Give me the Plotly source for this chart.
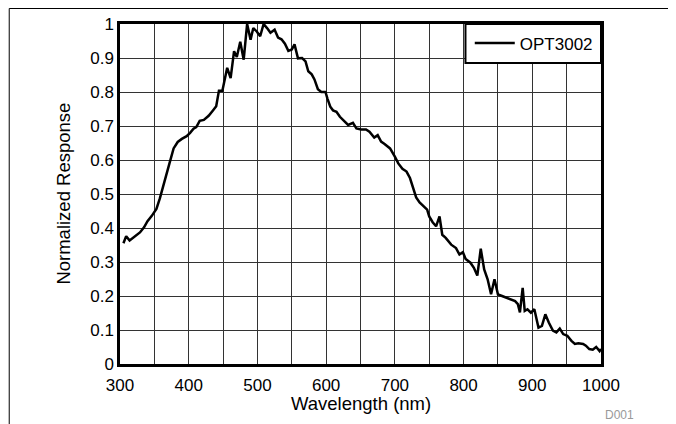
import plotly.graph_objects as go

wavelength = [305, 309, 314, 321, 329, 335, 340, 346, 353, 358, 365, 372, 378, 384, 390, 397, 402, 407, 411, 416,
              422, 429, 435, 440, 444, 449, 456, 461, 466, 470, 475, 480, 485, 490, 494, 499, 504, 509, 514, 519,
              525, 530, 535, 540, 545, 550, 554, 559, 565, 570, 574, 579, 583, 588, 593, 599, 602, 606, 610, 615,
              620, 627, 632, 639, 644, 651, 658, 663, 670, 675, 680, 685, 693, 700, 705, 711, 717, 722, 727, 731,
              736, 742, 747, 750, 755, 760, 765, 769, 774, 782, 789, 794, 799, 803, 810, 815, 820, 825, 830, 835,
              840, 845, 850, 856, 862, 868, 875, 879, 882, 886, 889, 893, 898, 903, 909, 914, 919, 924, 930, 935,
              940, 945, 951, 957, 962, 967, 974, 978, 983, 988, 993, 998, 1000]
response = [0.355, 0.376, 0.363, 0.374, 0.387, 0.402, 0.420, 0.435, 0.456, 0.487, 0.535, 0.590, 0.634, 0.653, 0.662,
            0.670, 0.680, 0.692, 0.697, 0.715, 0.718, 0.730, 0.745, 0.758, 0.804, 0.804, 0.871, 0.841, 0.920, 0.903,
            0.948, 0.895, 1.000, 0.954, 0.988, 0.978, 0.964, 1.000, 0.988, 0.974, 0.983, 0.960, 0.955, 0.942, 0.921,
            0.925, 0.940, 0.899, 0.900, 0.890, 0.861, 0.852, 0.837, 0.808, 0.800, 0.800, 0.780, 0.757, 0.746, 0.742,
            0.727, 0.712, 0.703, 0.709, 0.693, 0.690, 0.690, 0.683, 0.666, 0.673, 0.654, 0.647, 0.634, 0.610, 0.590,
            0.574, 0.566, 0.547, 0.513, 0.490, 0.475, 0.463, 0.454, 0.434, 0.417, 0.405, 0.434, 0.380, 0.371, 0.351,
            0.341, 0.322, 0.329, 0.309, 0.298, 0.283, 0.260, 0.339, 0.278, 0.249, 0.205, 0.249, 0.205, 0.200, 0.195,
            0.189, 0.185, 0.176, 0.152, 0.224, 0.156, 0.161, 0.151, 0.161, 0.107, 0.112, 0.146, 0.122, 0.098, 0.093,
            0.104, 0.088, 0.083, 0.068, 0.059, 0.061, 0.059, 0.054, 0.044, 0.042, 0.050, 0.038, 0.044]

series_name = "OPT3002"
x_title = "Wavelength (nm)"
y_title = "Normalized Response"
doc_id = "D001"

FONT = "Liberation Sans, Arial, sans-serif"

# figure is placed by the page at (8, 8); layout below is in figure pixels
W, H = 668, 416
L, R, T, B = 111.5, 74.5, 16, 60
PW, PH = W - L - R, H - T - B


def px(xf):
    return (xf - L) / PW


def py(yf):
    return (H - B - yf) / PH


fig = go.Figure()
fig.add_trace(go.Scatter(x=wavelength, y=response, mode="lines", name=series_name,
                         line=dict(color="black", width=2.5)))

axis_common = dict(showline=True, linecolor="black", linewidth=2.5, mirror=True,
                   showgrid=True, gridcolor="#333333", gridwidth=1, zeroline=False,
                   ticks="", tickfont=dict(size=17, color="black", family=FONT))

fig.update_xaxes(range=[300, 1000], dtick=100, tick0=300, ticklabelstandoff=4,
                 minor=dict(dtick=50, showgrid=True, gridcolor="#333333", gridwidth=1),
                 **axis_common)
fig.update_yaxes(range=[0, 1], dtick=0.1, tick0=0, **axis_common)

fig.update_layout(
    width=W, height=H,
    margin=dict(l=L, r=R, t=T, b=B, autoexpand=False),
    paper_bgcolor="white", plot_bgcolor="white",
    font=dict(family=FONT, size=17, color="black"),
    showlegend=True,
    legend=dict(x=px(457.7 + 4.3), y=py(35.5), xanchor="left", yanchor="middle",
                bgcolor="rgba(0,0,0,0)", borderwidth=0, itemwidth=40,
                font=dict(size=17, family=FONT, color="black")),
    shapes=[
        dict(type="rect", xref="paper", yref="paper",
             x0=px(0.5), x1=px(W + 20), y0=py(H + 20), y1=py(0.5),
             line=dict(color="black", width=1), fillcolor="rgba(0,0,0,0)", layer="below"),
        dict(type="rect", xref="paper", yref="paper",
             x0=px(457.7), x1=1, y0=py(55), y1=1,
             line=dict(color="black", width=2), fillcolor="white", layer="above"),
    ],
    annotations=[
        dict(text=x_title, xref="paper", yref="paper", x=0.5, y=py(395.5),
             xanchor="center", yanchor="middle", showarrow=False,
             font=dict(size=18.5, color="black", family=FONT)),
        dict(text=y_title, xref="paper", yref="paper", x=px(54), y=0.5, textangle=-90,
             xanchor="center", yanchor="middle", showarrow=False,
             font=dict(size=18.5, color="black", family=FONT)),
        dict(text=doc_id, xref="paper", yref="paper", x=px(612), y=py(406.5),
             xanchor="center", yanchor="middle", showarrow=False,
             font=dict(size=12, color="#999999", family=FONT)),
    ],
)

fig.write_html("out.html")
